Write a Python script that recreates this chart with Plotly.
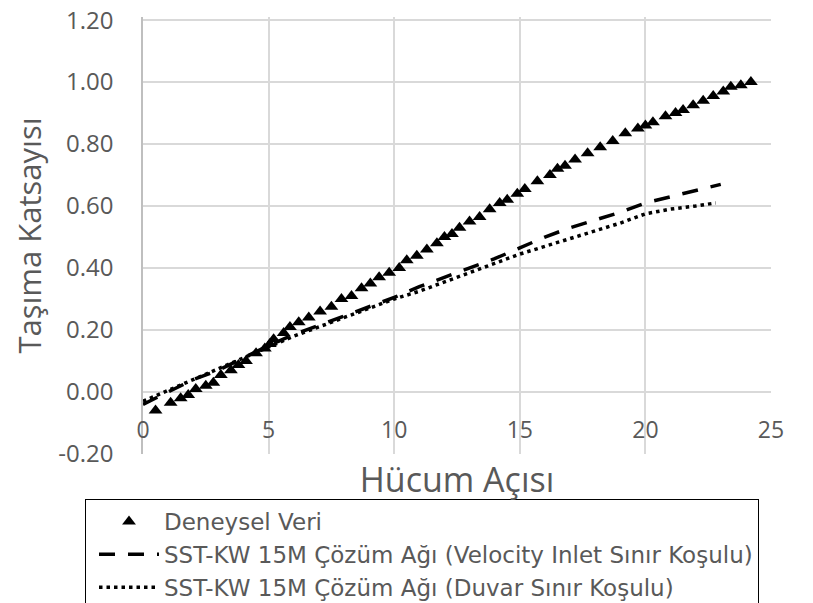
import plotly.graph_objects as go

# Deneysel Veri (experimental)
exp_x = [0.5, 1.1, 1.5, 1.8, 2.1, 2.5, 2.8, 3.1, 3.5, 3.8, 4.1, 4.5, 4.85, 5.05,
         5.2, 5.6, 5.85, 6.2, 6.6, 7.05, 7.5, 7.9, 8.3, 8.7, 9.05, 9.4, 9.8, 10.2,
         10.5, 10.9, 11.3, 11.7, 12.0, 12.3, 12.6, 13.0, 13.4, 13.8, 14.2, 14.5, 14.9,
         15.2, 15.7, 16.2, 16.5, 16.8, 17.2, 17.7, 18.2, 18.7, 19.2, 19.7, 20.0,
         20.3, 20.8, 21.2, 21.5, 21.9, 22.3, 22.7, 23.1, 23.4, 23.8, 24.2]
exp_y = [-0.06, -0.035, -0.02, -0.01, 0.01, 0.02, 0.03, 0.055, 0.07, 0.087, 0.10, 0.125, 0.14, 0.155,
         0.17, 0.19, 0.21, 0.225, 0.24, 0.26, 0.275, 0.30, 0.31, 0.335, 0.35, 0.37, 0.385, 0.40,
         0.425, 0.44, 0.46, 0.48, 0.50, 0.51, 0.53, 0.55, 0.565, 0.59, 0.61, 0.62, 0.64,
         0.655, 0.68, 0.70, 0.72, 0.73, 0.75, 0.77, 0.79, 0.81, 0.835, 0.85, 0.86,
         0.87, 0.89, 0.90, 0.91, 0.925, 0.94, 0.955, 0.97, 0.985, 0.99, 1.00]

# SST-KW 15M (Velocity Inlet)
vi_x = [0, 1, 2, 3, 4, 5, 6, 7, 8, 9, 10, 11, 12, 13, 14, 15, 16, 17, 18, 19, 20, 21, 22, 23]
vi_y = [-0.04, 0.0, 0.04, 0.07, 0.11, 0.15, 0.185, 0.215, 0.245, 0.275, 0.305, 0.34, 0.37,
        0.40, 0.43, 0.465, 0.50, 0.53, 0.555, 0.58, 0.61, 0.63, 0.65, 0.67]

# SST-KW 15M (Duvar)
wall_x = [0, 1, 2, 3, 4, 5, 6, 7, 8, 9, 10, 11, 12, 13, 14, 15, 16, 17, 18, 19, 20, 21, 22, 22.8]
wall_y = [-0.03, 0.005, 0.04, 0.075, 0.11, 0.145, 0.18, 0.21, 0.24, 0.27, 0.30, 0.325, 0.355,
          0.385, 0.415, 0.445, 0.47, 0.495, 0.52, 0.545, 0.575, 0.59, 0.60, 0.61]

x_ticks = [0, 5, 10, 15, 20, 25]
y_ticks = [-0.2, 0.0, 0.2, 0.4, 0.6, 0.8, 1.0, 1.2]

FONT = "Open Sans"
LEG_FONT = "DejaVu Sans"
GRAY = "#595959"

fig = go.Figure()
fig.add_trace(go.Scatter(x=exp_x, y=exp_y, mode="markers", name="Deneysel Veri",
                         marker=dict(symbol="triangle-up", size=12, color="black")))
fig.add_trace(go.Scatter(x=vi_x, y=vi_y, mode="lines",
                         name="SST-KW 15M Çözüm Ağı (Velocity Inlet Sınır Koşulu)",
                         line=dict(color="black", width=3.5, dash="16px,13px")))
fig.add_trace(go.Scatter(x=wall_x, y=wall_y, mode="lines",
                         name="SST-KW 15M Çözüm Ağı (Duvar Sınır Koşulu)",
                         line=dict(color="black", width=3.5, dash="3.5px,4px")))

# page body has an 8px margin; plot area target in window: x 143..771, y 20..454
fig.update_layout(
    width=813, height=603,
    paper_bgcolor="white", plot_bgcolor="white",
    margin=dict(l=135, r=50, t=9, b=157, autoexpand=False),
    font=dict(family=FONT, color=GRAY),
    xaxis=dict(range=[-0.0001, 25.0001], tickvals=x_ticks, ticktext=[str(v) for v in x_ticks],
               showgrid=True, gridcolor="#d9d9d9", gridwidth=1.5, zeroline=False,
               showline=False, anchor="free", position=62/437,
               ticks="", ticklabelstandoff=22, ticklabeloverflow="allow",
               tickfont=dict(size=23, color=GRAY, family=FONT),
               title=dict(text="Hücum Açısı", font=dict(size=34, color=GRAY, family=FONT),
                          standoff=24)),
    yaxis=dict(range=[-0.2001, 1.21], tickvals=y_ticks, ticktext=[f"{v:.2f}" for v in y_ticks],
               showgrid=True, gridcolor="#d9d9d9", gridwidth=1.5, zeroline=False,
               showline=True, linecolor="#bfbfbf", linewidth=1.5,
               ticks="", ticklabelstandoff=23, ticklabeloverflow="allow",
               tickfont=dict(size=24, color=GRAY, family=FONT),
               title=dict(text="Taşıma Katsayısı", font=dict(size=31, color=GRAY, family=FONT),
                          standoff=24)),
    showlegend=True,
    legend=dict(x=(85 - 143) / 628, y=(457 - 502) / 437, xanchor="left", yanchor="top",
                bordercolor="black", borderwidth=1, bgcolor="white",
                font=dict(size=23, color=GRAY, family=LEG_FONT),
                itemwidth=60, indentation=8, tracegroupgap=0),
)

fig.write_html("out.html")
